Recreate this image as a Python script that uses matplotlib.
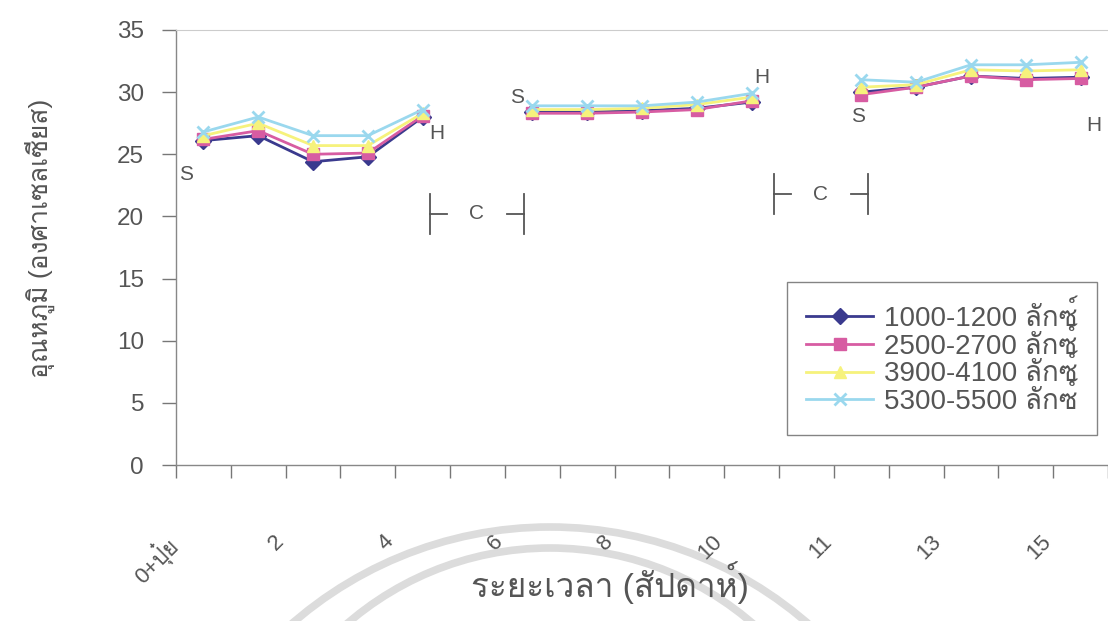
import matplotlib
matplotlib.use("Agg")
import matplotlib.pyplot as plt
from matplotlib import font_manager
from matplotlib.ft2font import FT2Font
from matplotlib.patches import Arc
from matplotlib.transforms import ScaledTranslation


def thai_families():
    # families on this machine that carry Thai glyphs
    found = []
    for f in font_manager.fontManager.ttflist:
        try:
            if 0x0E01 in FT2Font(f.fname).get_charmap() and f.name not in found:
                found.append(f.name)
        except Exception:
            pass
    return found


plt.rcParams['font.family'] = ['Liberation Sans'] + thai_families() + ['DejaVu Sans']

# 17 weekly categories, three measured segments separated by gaps
n_cat = 17
tick_labels = ["0+ปุ๋ย", "2", "4", "6", "8", "10", "11", "13", "15"]
tick_pos = [0, 2, 4, 6, 8, 10, 12, 14, 16]

seg_x = [[0, 1, 2, 3, 4], [6, 7, 8, 9, 10], [12, 13, 14, 15, 16]]

lux_1000 = [[26.1, 26.5, 24.4, 24.8, 28.0], [28.4, 28.4, 28.5, 28.7, 29.2], [30.0, 30.4, 31.3, 31.1, 31.2]]
lux_2500 = [[26.2, 26.9, 25.0, 25.1, 28.1], [28.3, 28.3, 28.4, 28.6, 29.3], [29.8, 30.4, 31.3, 31.0, 31.1]]
lux_3900 = [[26.5, 27.5, 25.7, 25.7, 28.3], [28.6, 28.6, 28.7, 29.0, 29.6], [30.4, 30.6, 31.8, 31.7, 31.8]]
lux_5300 = [[26.8, 28.0, 26.5, 26.5, 28.6], [28.9, 28.9, 28.9, 29.2, 29.9], [31.0, 30.8, 32.2, 32.2, 32.4]]

series = [
    ("1000-1200 ลักซ์", lux_1000, "#3a3a8e", "D"),
    ("2500-2700 ลักซ์", lux_2500, "#d75ca2", "s"),
    ("3900-4100 ลักซ์", lux_3900, "#f6f27c", "^"),
    ("5300-5500 ลักซ์", lux_5300, "#9ad8ee", "x"),
]

# S / H marks and the C brackets
sh_labels = [("S", -0.45, 23.4), ("H", 4.12, 26.7), ("S", 5.6, 29.6),
             ("H", 10.05, 31.2), ("S", 11.82, 28.0), ("H", 16.1, 27.3)]
c_brackets = [(4.13, 5.85, 20.2), (10.4, 12.13, 21.8)]

fig = plt.figure(figsize=(11.08, 6.21), dpi=100)
ax = fig.add_axes([176 / 1108, 1 - 465 / 621, 1 - 176 / 1108, 435 / 621])

for name, data, color, marker in series:
    for k, xs in enumerate(seg_x):
        ax.plot(xs, data[k], color=color, lw=2, marker=marker,
                ms=8 if marker != "x" else 9, mew=2 if marker == "x" else 1,
                mec=color, mfc=color, label=name if k == 0 else None, zorder=3)

for txt, x, y in sh_labels:
    ax.text(x, y, txt, fontsize=15, color="#555555", ha="left", va="center")

for x0, x1, y in c_brackets:
    ax.plot([x0, x0], [y - 1.6, y + 1.6], color="#555555", lw=1.3)
    ax.plot([x0, x0 + 0.32], [y, y], color="#555555", lw=1.3)
    ax.plot([x1, x1], [y - 1.6, y + 1.6], color="#555555", lw=1.3)
    ax.plot([x1 - 0.32, x1], [y, y], color="#555555", lw=1.3)
    ax.text((x0 + x1) / 2, y, "C", fontsize=15, color="#555555", ha="center", va="center")

ax.set_xlim(-0.5, n_cat - 0.5)
ax.set_ylim(0, 35)
ax.set_yticks(range(0, 36, 5))
ax.tick_params(axis="y", direction="out", length=10, width=1, color="#777777",
               labelsize=17.5, labelcolor="#555555", pad=13)

ax.set_xticks([i - 0.5 for i in range(n_cat + 1)])
ax.set_xticklabels([])
ax.set_xticks(tick_pos, minor=True)
ax.set_xticklabels(tick_labels, minor=True, rotation=45, ha="right",
                   rotation_mode="anchor", fontsize=16, color="#555555")
ax.tick_params(axis="x", which="major", direction="out", length=9, width=1, color="#777777")
ax.tick_params(axis="x", which="minor", length=0, pad=0)
offset = ScaledTranslation(-0.4, -0.66, fig.dpi_scale_trans)
for lab in ax.get_xticklabels(minor=True):
    lab.set_transform(lab.get_transform() + offset)

for side in ["left", "bottom"]:
    ax.spines[side].set_color("#888888")
    ax.spines[side].set_linewidth(1)
ax.spines["top"].set_color("#cccccc")
ax.spines["right"].set_visible(False)

ax.set_ylabel("อุณหภูมิ (องศาเซลเซียส)", fontsize=19, color="#555555")
ax.yaxis.set_label_coords(-121 / 932, 0.52)
fig.text(610 / 1108, 1 - 583 / 621, "ระยะเวลา (สัปดาห์)", fontsize=24,
         color="#555555", ha="center", va="center")

leg = ax.legend(loc="upper left", bbox_to_anchor=((787 - 176) / 932, (465 - 282) / 435),
                borderaxespad=0, fontsize=20, frameon=True, fancybox=False,
                edgecolor="#666666", labelspacing=-0.1, handlelength=2.4,
                handletextpad=0.4, borderpad=0.7, labelcolor="#555555")
leg.get_frame().set_linewidth(1)

# faint seal watermark from the scan (display pixels, origin bottom-left)
for cy, r in ((621 - 920, 393), (621 - 858, 310)):
    fig.patches.append(Arc((550, cy), 2 * r, 2 * r, theta1=0, theta2=180,
                           transform=None, color="#dcdcdc", lw=5.5, zorder=-1))

fig.savefig("out.png", dpi=100)
